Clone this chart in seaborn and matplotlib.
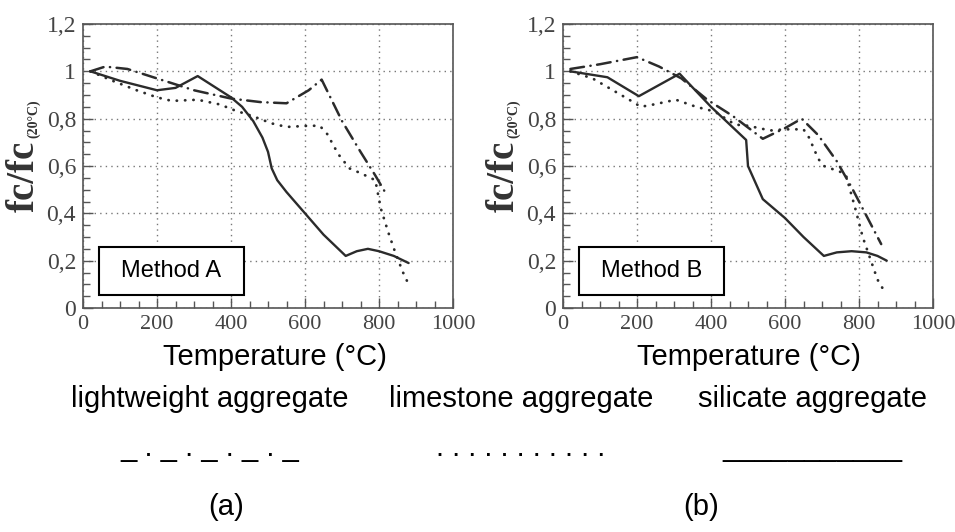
"""
Relative compressive strength fc/fc(20C) vs temperature, methods A and B.
"""
import numpy as np
import pandas as pd
import matplotlib
matplotlib.use("Agg")
import matplotlib.pyplot as plt
from matplotlib.patches import Rectangle
from matplotlib.ticker import MultipleLocator, FixedLocator
import seaborn as sns

# ---- data ----
# Method A
a_light_t = [20, 60, 120, 200, 300, 400, 480, 550, 610, 645, 700, 750, 790, 820]
a_light_v = [1.0, 1.02, 1.01, 0.97, 0.92, 0.885, 0.87, 0.865, 0.92, 0.965, 0.79, 0.66, 0.56, 0.48]

a_lime_t = [20, 80, 145, 200, 240, 310, 370, 410, 460, 510, 550, 610, 640, 660, 690, 720,
            750, 790, 805, 825, 845, 865, 880]
a_lime_v = [1.0, 0.96, 0.92, 0.89, 0.875, 0.88, 0.86, 0.835, 0.81, 0.78, 0.765, 0.77, 0.77,
            0.735, 0.65, 0.59, 0.57, 0.54, 0.42, 0.32, 0.23, 0.15, 0.10]

a_sil_t = [20, 100, 200, 250, 310, 350, 400, 430, 460, 485, 500, 510, 525, 550, 600, 650,
           710, 740, 770, 800, 840, 880]
a_sil_v = [1.0, 0.96, 0.92, 0.93, 0.98, 0.94, 0.89, 0.85, 0.79, 0.72, 0.66, 0.59, 0.54, 0.49,
           0.40, 0.31, 0.22, 0.24, 0.25, 0.24, 0.22, 0.19]

# Method B
b_light_t = [20, 100, 200, 260, 320, 390, 460, 540, 600, 645, 690, 740, 780, 820, 860]
b_light_v = [1.01, 1.03, 1.06, 1.02, 0.97, 0.88, 0.81, 0.715, 0.76, 0.80, 0.73, 0.62, 0.51, 0.39, 0.27]

b_lime_t = [20, 80, 135, 190, 210, 245, 305, 360, 410, 465, 500, 560, 600, 650, 665, 690,
            705, 750, 765, 790, 810, 830, 850, 865]
b_lime_v = [1.0, 0.97, 0.92, 0.87, 0.85, 0.86, 0.88, 0.85, 0.83, 0.775, 0.77, 0.75, 0.755,
            0.755, 0.72, 0.63, 0.60, 0.575, 0.56, 0.42, 0.30, 0.21, 0.12, 0.08]

b_sil_t = [20, 120, 205, 315, 400, 495, 500, 540, 600, 650, 705, 740, 780, 820, 850, 875]
b_sil_v = [1.0, 0.975, 0.895, 0.99, 0.85, 0.71, 0.60, 0.46, 0.38, 0.30, 0.22, 0.235, 0.24,
           0.235, 0.22, 0.20]

x_ticks = [0, 200, 400, 600, 800, 1000]
y_ticks = [0, 0.2, 0.4, 0.6, 0.8, 1.0, 1.2]
y_tick_labels = ["0", "0,2", "0,4", "0,6", "0,8", "1", "1,2"]
panel_names = ["Method A", "Method B"]
panel_letters = ["(a)", "(b)"]
legend_names = ["lightweight aggregate", "limestone aggregate", "silicate aggregate"]
legend_marks = ["_ . _ . _ . _ . _", ". . . . . . . . . . .", "___________"]

LINE = "#2b2b2b"
STYLES = {
    "light": dict(linestyle=(0, (5.5, 2.6, 0.1, 2.6)), linewidth=1.8, dash_capstyle="round"),
    "lime": dict(linestyle=(0, (0.1, 2.9)), linewidth=2.0, dash_capstyle="round"),
    "sil": dict(linestyle="-", linewidth=1.7),
}

sns.set_theme(style="white")
plt.rcParams["font.family"] = ["Liberation Serif", "DejaVu Serif"]

W, H = 955, 532
fig = plt.figure(figsize=(W / 100, H / 100), dpi=100)
fig.patch.set_facecolor("white")

panels = [
    ((a_light_t, a_light_v), (a_lime_t, a_lime_v), (a_sil_t, a_sil_v)),
    ((b_light_t, b_light_v), (b_lime_t, b_lime_v), (b_sil_t, b_sil_v)),
]
lefts = [83, 563]

for i, series in enumerate(panels):
    ax = fig.add_axes([lefts[i] / W, (H - 308) / H, 370 / W, 284 / H])
    for key, (t, v) in zip(["light", "lime", "sil"], series):
        df = pd.DataFrame({"T": t, "v": v})
        sns.lineplot(data=df, x="T", y="v", ax=ax, color=LINE, estimator=None,
                     sort=False, **STYLES[key])

    ax.set_xlim(0, 1000)
    ax.set_ylim(0, 1.2)
    ax.xaxis.set_major_locator(FixedLocator(x_ticks))
    ax.yaxis.set_major_locator(FixedLocator(y_ticks))
    ax.set_yticklabels(y_tick_labels)
    ax.xaxis.set_minor_locator(MultipleLocator(50))
    ax.yaxis.set_minor_locator(MultipleLocator(0.05))
    ax.tick_params(which="both", direction="in", top=False, right=False,
                   bottom=True, left=True, colors="#555555", labelcolor="#444444")
    ax.tick_params(which="major", length=7, width=1.0, pad=5)
    ax.tick_params(axis="x", which="major", labelsize=16)
    ax.tick_params(axis="y", which="major", labelsize=17)
    ax.tick_params(which="minor", length=5, width=1.0)
    ax.grid(True, which="major", linestyle=(0, (1, 3)), color="#777777", linewidth=1.0)
    for s in ax.spines.values():
        s.set_color("#555555")
        s.set_linewidth(1.2)
    ax.set_xlabel("")
    ax.set_ylabel("")

    # y label: fc/fc with subscript (20°C)
    ax.text(-0.158, 0.463, "fc/fc", transform=ax.transAxes, rotation=90,
            ha="center", va="center", fontsize=28, fontweight="bold", color="#333333")
    ax.text(-0.133, 0.665, "(20°C)", transform=ax.transAxes, rotation=90,
            ha="center", va="center", fontsize=10, fontweight="bold", color="#333333")

    # Method box
    ax.add_patch(Rectangle((0.043, 0.046), 0.392, 0.169, transform=ax.transAxes,
                           facecolor="white", edgecolor="black", linewidth=1.5, zorder=5))
    ax.text(0.239, 0.130, panel_names[i], transform=ax.transAxes, ha="center",
            va="center", fontsize=17, family="Liberation Sans", color="black", zorder=6)

sans = "Liberation Sans"
for cx in [275, 749]:
    fig.text(cx / W, 1 - 365 / H, "Temperature (°C)", ha="center", va="baseline",
             fontsize=21, family=sans, color="black")

for cx, name, mark in zip([210, 521, 812], legend_names, legend_marks):
    fig.text(cx / W, 1 - 407 / H, name, ha="center", va="baseline",
             fontsize=21, family=sans, color="black")
    fig.text(cx / W, 1 - 456 / H, mark, ha="center", va="baseline",
             fontsize=21, family=sans, color="black")

for cx, letter in zip([226, 701], panel_letters):
    fig.text(cx / W, 1 - 515 / H, letter, ha="center", va="baseline",
             fontsize=21, family=sans, color="black")

fig.savefig("out.png", dpi=100)
